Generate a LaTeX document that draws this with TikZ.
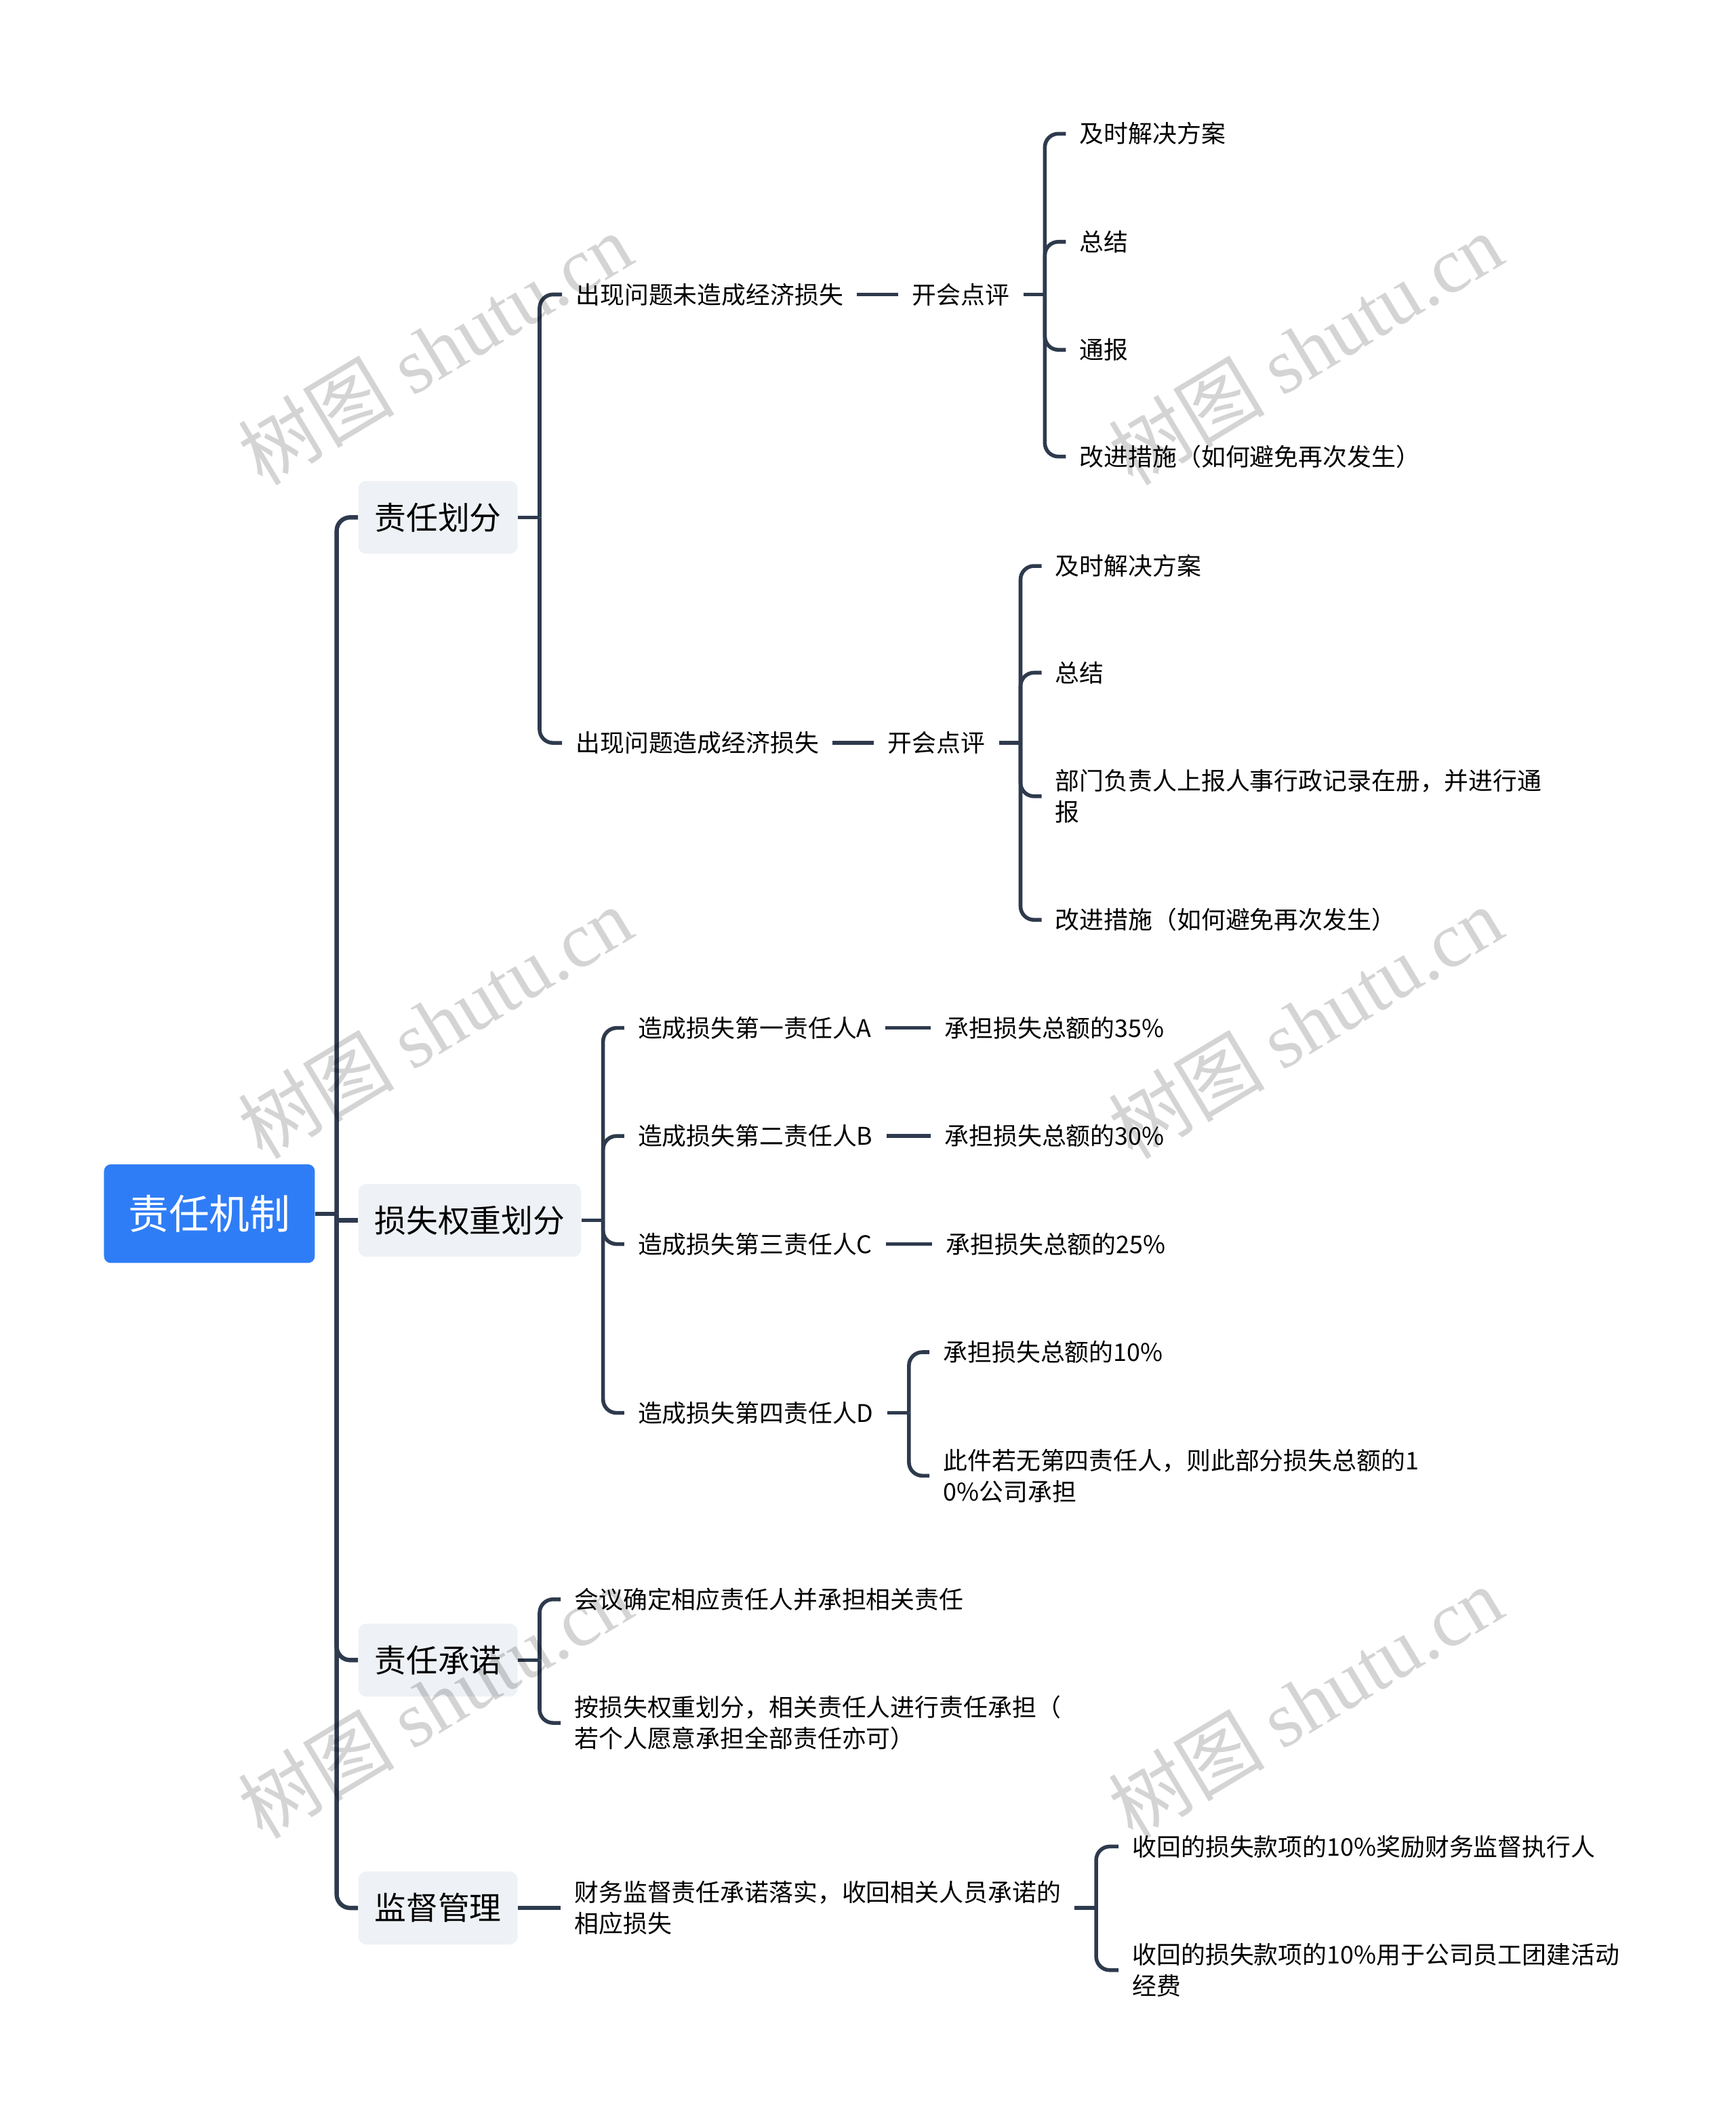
\documentclass[tikz,border=0pt]{standalone}
\usepackage{fontspec}
\setmainfont{Noto Sans CJK SC}
\newfontfamily\wmserif{Liberation Serif}
\usetikzlibrary{calc}
\definecolor{lineC}{RGB}{46,58,77}
\definecolor{rootC}{RGB}{47,125,246}
\definecolor{lvlC}{RGB}{238,241,245}
\tikzset{
  rootbox/.style={fill=rootC, text=white, rounded corners=5pt,
    font=\fontsize{30}{36}\selectfont, minimum width=156pt, minimum height=73pt, inner xsep=0pt},
  lvlbox/.style={fill=lvlC, rounded corners=6pt, font=\fontsize{23.5}{28}\selectfont,
    minimum height=54pt, inner xsep=12pt, anchor=west},
  leaf/.style={font=\fontsize{18}{23}\selectfont, inner xsep=10pt, inner ysep=2pt,
    align=left, anchor=west},
  ln/.style={draw=lineC, line width=2.8pt},
  trunk/.style={draw=lineC, line width=3.2pt},
  elbow/.style={rounded corners=10pt},
  wm/.style={font=\fontsize{58}{60}\selectfont, text=black, opacity=0.17, rotate=31}
}
\begin{document}
\begin{tikzpicture}[x=1pt,y=-1pt]
\useasboundingbox (0,0) rectangle (1285,1568);

% root
\node[rootbox] (root) at (155,898.5) {责任机制};

% level 1
\node[lvlbox] (la) at (265,383) {责任划分};
\node[lvlbox] (lb) at (265,903.5) {损失权重划分};
\node[lvlbox] (lc) at (265,1229) {责任承诺};
\node[lvlbox] (ld) at (265,1412.5) {监督管理};

% branch A
\node[leaf] (a1) at (416,218) {出现问题未造成经济损失};
\node[leaf] (a1c) at (665,218) {开会点评};
\node[leaf] (a1c1) at (789,99) {及时解决方案};
\node[leaf] (a1c2) at (789,179) {总结};
\node[leaf] (a1c3) at (789,259) {通报};
\node[leaf] (a1c4) at (789,338) {改进措施（如何避免再次发生）};
\node[leaf] (a2) at (416,550) {出现问题造成经济损失};
\node[leaf] (a2c) at (647,550) {开会点评};
\node[leaf] (a2c1) at (771,419) {及时解决方案};
\node[leaf] (a2c2) at (771,498) {总结};
\node[leaf] (a2c3) at (771,589.5) {部门负责人上报人事行政记录在册，并进行通\\报};
\node[leaf] (a2c4) at (771,681) {改进措施（如何避免再次发生）};

% branch B
\node[leaf] (b1) at (462,761) {造成损失第一责任人A};
\node[leaf] (b1c) at (689,761) {承担损失总额的35\%};
\node[leaf] (b2) at (462,841) {造成损失第二责任人B};
\node[leaf] (b2c) at (689,841) {承担损失总额的30\%};
\node[leaf] (b3) at (462,921) {造成损失第三责任人C};
\node[leaf] (b3c) at (690,921) {承担损失总额的25\%};
\node[leaf] (b4) at (462,1046) {造成损失第四责任人D};
\node[leaf] (b4c1) at (688,1001) {承担损失总额的10\%};
\node[leaf] (b4c2) at (688,1092.5) {此件若无第四责任人，则此部分损失总额的1\\0\%公司承担};

% branch C
\node[leaf] (c1) at (415,1184) {会议确定相应责任人并承担相关责任};
\node[leaf] (c2) at (415,1275.5) {按损失权重划分，相关责任人进行责任承担（\\若个人愿意承担全部责任亦可）};

% branch D
\node[leaf] (d1) at (415,1412.5) {财务监督责任承诺落实，收回相关人员承诺的\\相应损失};
\node[leaf] (d1a) at (828,1367) {收回的损失款项的10\%奖励财务监督执行人};
\node[leaf] (d1b) at (828,1458.5) {收回的损失款项的10\%用于公司员工团建活动\\经费};

% connectors: root -> level 1
\draw[trunk] (root.east) -- ++(16,0) coordinate (rj);
\draw[trunk, elbow] (rj) |- (la.west);
\draw[trunk] (rj |- lb.west) -- (lb.west);
\draw[trunk, elbow] (rj) |- (lc.west);
\draw[trunk, elbow] (rj) |- (ld.west);

% la -> a1, a2
\draw[ln] (la.east) -- ++(16,0) coordinate (laj);
\draw[ln, elbow] (laj) |- (a1.west);
\draw[ln, elbow] (laj) |- (a2.west);
\draw[ln] (a1.east) -- (a1c.west);
\draw[ln] (a2.east) -- (a2c.west);
\draw[ln] (a1c.east) -- ++(16,0) coordinate (a1j);
\foreach \c in {a1c1,a1c2,a1c3,a1c4} \draw[ln, elbow] (a1j) |- (\c.west);
\draw[ln] (a2c.east) -- ++(16,0) coordinate (a2j);
\foreach \c in {a2c1,a2c2,a2c3,a2c4} \draw[ln, elbow] (a2j) |- (\c.west);

% lb -> b*
\draw[ln] (lb.east) -- ++(16,0) coordinate (lbj);
\foreach \c in {b1,b2,b3,b4} \draw[ln, elbow] (lbj) |- (\c.west);
\draw[ln] (b1.east) -- (b1c.west);
\draw[ln] (b2.east) -- (b2c.west);
\draw[ln] (b3.east) -- (b3c.west);
\draw[ln] (b4.east) -- ++(16,0) coordinate (b4j);
\draw[ln, elbow] (b4j) |- (b4c1.west);
\draw[ln, elbow] (b4j) |- (b4c2.west);

% lc -> c*
\draw[ln] (lc.east) -- ++(16,0) coordinate (lcj);
\draw[ln, elbow] (lcj) |- (c1.west);
\draw[ln, elbow] (lcj) |- (c2.west);

% ld -> d1 -> d1a, d1b
\draw[ln] (ld.east) -- (d1.west);
\draw[ln] (d1.east) -- ++(16,0) coordinate (d1j);
\draw[ln, elbow] (d1j) |- (d1a.west);
\draw[ln, elbow] (d1j) |- (d1b.west);

% watermarks
\foreach \wx/\wy [count=\i] in {322/258, 966/258, 322/757, 966/757, 322/1260, 966/1260}
  \node[wm] (wm\i) at (\wx,\wy) {树图 {\wmserif shutu.cn}};
\end{tikzpicture}
\end{document}
